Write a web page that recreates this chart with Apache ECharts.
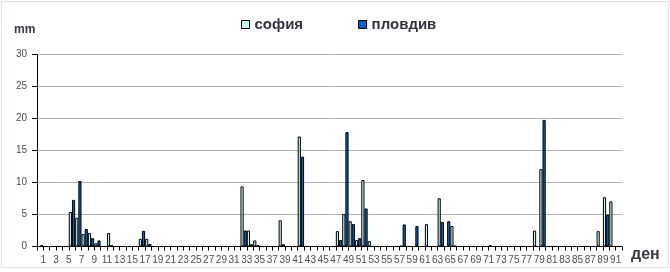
<!DOCTYPE html>
<html>
<head>
<meta charset="utf-8">
<script src="https://cdn.jsdelivr.net/npm/echarts@6/dist/echarts.min.js"></script>
<style>
html,body{margin:0;padding:0;background:#fff;}
#c{width:670px;height:272px;}
</style>
</head>
<body>
<div id="c"></div>
<script>
// day numbers 1..91
const days = [1,2,3,4,5,6,7,8,9,10,11,12,13,14,15,16,17,18,19,20,21,22,23,24,25,26,27,28,29,30,
  31,32,33,34,35,36,37,38,39,40,41,42,43,44,45,46,47,48,49,50,51,52,53,54,55,56,57,58,59,60,
  61,62,63,64,65,66,67,68,69,70,71,72,73,74,75,76,77,78,79,80,81,82,83,84,85,86,87,88,89,90,91];

// софия (mm), days 1..91
const sofia = [
  0,0,0,0,5.4,4.5,1.95,2.1,0.5,0,
  2.1,0,0,0,0,1.2,1.2,0,0,0,
  0,0,0,0,0,0,0,0,0,0,
  0,9.4,2.5,0.95,0,0,0,4.1,0,0,
  17.2,0,0,0,0,0,2.4,5.1,3.95,1.0,
  10.4,0.85,0,0,0,0,0.1,0,0,0,
  3.5,0,7.55,0,3.2,0,0,0,0,0,
  0.2,0,0,0,0,0,0,2.5,12.1,0,
  0,0,0,0,0,0,0,2.4,7.7,7.05,
  0
];

// пловдив (mm), days 1..91
const plovdiv = [
  0.2,0,0,0,0,7.3,10.25,2.75,1.3,0.95,
  0,0.2,0,0,0,0,2.45,0.4,0,0,
  0,0,0,0,0,0,0,0,0,0,
  0,0,2.5,0.35,0.2,0,0,0,0.35,0,
  0,14.05,0,0,0,0,0,1.0,17.9,3.5,
  1.3,5.95,0,0,0,0,0,3.45,0,3.2,
  0,0,0,3.85,3.95,0.1,0,0,0,0,
  0,0,0,0,0,0,0,0,0,19.8,
  0,0,0,0,0,0,0,0,0,5.0,
  0
];

const seriesNames = ['софия', 'пловдив'];
const yTicks = [0,5,10,15,20,25,30];

const FONT = 'Liberation Sans';
const chart = echarts.init(document.getElementById('c'), null, {renderer:'canvas'});

chart.setOption({
  animation: false,
  backgroundColor: '#ffffff',
  textStyle: { fontFamily: FONT },
  graphic: [
    { type:'rect', shape:{x:1.5,y:1.5,width:667,height:266}, style:{fill:'none', stroke:'#dbe5f1', lineWidth:1}, silent:true, z:-1 },
    { type:'text', left:14, top:24, style:{ text:'mm', font:'bold 12px "Liberation Sans"', fill:'#3a3a44' } },
    { type:'text', left:631, top:247, style:{ text:'ден', font:'bold 16px "Liberation Sans"', fill:'#3a3a44' } }
  ],
  legend: {
    data: seriesNames,
    left: 236,
    top: 12,
    icon: 'rect',
    itemWidth: 8,
    itemHeight: 8,
    itemGap: 55,
    itemStyle: { borderColor:'#000', borderWidth:1 },
    textStyle: { fontFamily: FONT, fontSize: 15, fontWeight: 'bold', color: '#333340' }
  },
  grid: { left: 37, right: 48, top: 54.7, bottom: 25.5, containLabel: false },
  xAxis: {
    type: 'value',
    min: 0,
    max: 92,
    interval: 1,
    splitLine: { show: false },
    axisLine: { show: true, lineStyle: { color: '#000', width: 1 } },
    axisTick: { show: true, length: 4, lineStyle: { color: '#000' } },
    axisLabel: {
      margin: 9,
      fontSize: 10,
      color: '#4d4d55',
      fontFamily: FONT,
      showMinLabel: true,
      showMaxLabel: true,
      formatter: function (v) {
        return (days.indexOf(v) >= 0 && v % 2 === 1) ? String(v) : '';
      }
    }
  },
  yAxis: {
    type: 'value',
    min: yTicks[0],
    max: yTicks[yTicks.length - 1],
    interval: 5,
    axisLine: { show: true, lineStyle: { color: '#000', width: 1 } },
    axisTick: { show: true, length: 5, lineStyle: { color: '#000' } },
    splitLine: { show: true, lineStyle: { color: '#b3b3b3', width: 1 } },
    axisLabel: { margin: 10, fontSize: 10, color: '#4d4d55', fontFamily: FONT }
  },
  series: [
    {
      name: seriesNames[1],
      type: 'bar',
      barWidth: '50%',
      barGap: '0%',
      data: days.map((d, i) => [d, plovdiv[i]]),
      itemStyle: { color: '#0a62c4', borderColor: '#000', borderWidth: 1 }
    },
    {
      name: seriesNames[0],
      type: 'bar',
      barWidth: '50%',
      barGap: '0%',
      data: days.map((d, i) => [d, sofia[i]]),
      itemStyle: { color: '#ccf2f2', borderColor: '#000', borderWidth: 1 }
    }
  ]
});
</script>
</body>
</html>
